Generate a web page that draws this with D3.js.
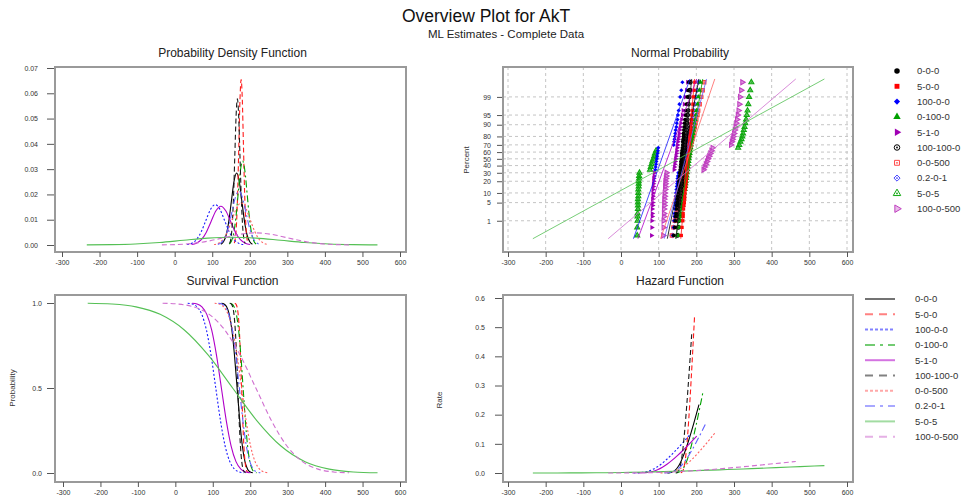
<!DOCTYPE html>
<html>
<head>
<meta charset="utf-8">
<script src="https://cdn.jsdelivr.net/npm/d3@7"></script>
<style>
  body { margin: 0; background: #fff; }
  text { font-family: "Liberation Sans", Arial, sans-serif; }
</style>
</head>
<body>
<script>
// Series (legend order)
const seriesNames = ["0-0-0", "5-0-0", "100-0-0", "0-100-0", "5-1-0", "100-100-0", "0-0-500", "0.2-0-1", "5-0-5", "100-0-500"];

// Tick labels
const xTickValues = [-300, -200, -100, 0, 100, 200, 300, 400, 500, 600];
const pdfTicks = [0, 0.01, 0.02, 0.03, 0.04, 0.05, 0.06, 0.07];
const survTicks = [0, 0.5, 1];
const hazTicks = [0, 0.1, 0.2, 0.3, 0.4, 0.5, 0.6];
const probTicks = [1, 5, 10, 20, 30, 40, 50, 60, 70, 80, 90, 95, 99];

// x positions of the sampled curve points for each series
const curveX = [
  [123, 130, 137, 144, 151, 158, 165, 172, 179, 186, 193, 200, 207],
  [158.7, 161.75, 164.8, 167.85, 170.9, 173.95, 177, 180.05, 183.1, 186.15, 189.2, 192.25, 195.3],
  [33, 45.5, 58, 70.5, 83, 95.5, 108, 120.5, 133, 145.5, 158, 170.5, 183],
  [145, 151, 157, 163, 169, 175, 181, 187, 193, 199, 205, 211, 217],
  [45, 58, 71, 84, 97, 110, 123, 136, 149, 162, 175, 188, 201],
  [146.3, 149.75, 153.2, 156.65, 160.1, 163.55, 167, 170.45, 173.9, 177.35, 180.8, 184.25, 187.7],
  [105, 117, 129, 141, 153, 165, 177, 189, 201, 213, 225, 237, 249],
  [114.9, 124.25, 133.6, 142.95, 152.3, 161.65, 171, 180.35, 189.7, 199.05, 208.4, 217.75, 227.1],
  [-234, -169.5, -105, -40.5, 24, 88.5, 153, 217.5, 282, 346.5, 411, 475.5, 540],
  [-34, 7.5, 49, 90.5, 132, 173.5, 215, 256.5, 298, 339.5, 381, 422.5, 464]
];

// density at those points
const pdfValues = [
  [0.00032, 0.00125, 0.00386, 0.00925, 0.01728, 0.02515, 0.02850, 0.02515, 0.01728, 0.00925, 0.00386, 0.00125, 0.00032],
  [0.00073, 0.00287, 0.00885, 0.02123, 0.03967, 0.05772, 0.06540, 0.05772, 0.03967, 0.02123, 0.00885, 0.00287, 0.00073],
  [0.00018, 0.00070, 0.00216, 0.00518, 0.00968, 0.01408, 0.01596, 0.01408, 0.00968, 0.00518, 0.00216, 0.00070, 0.00018],
  [0.00037, 0.00146, 0.00450, 0.01079, 0.02016, 0.02934, 0.03325, 0.02934, 0.02016, 0.01079, 0.00450, 0.00146, 0.00037],
  [0.00017, 0.00067, 0.00208, 0.00498, 0.00931, 0.01354, 0.01534, 0.01354, 0.00931, 0.00498, 0.00208, 0.00067, 0.00017],
  [0.00064, 0.00254, 0.00782, 0.01877, 0.03507, 0.05102, 0.05782, 0.05102, 0.03507, 0.01877, 0.00782, 0.00254, 0.00064],
  [0.00018, 0.00073, 0.00225, 0.00540, 0.01008, 0.01467, 0.01662, 0.01467, 0.01008, 0.00540, 0.00225, 0.00073, 0.00018],
  [0.00024, 0.00094, 0.00289, 0.00693, 0.01294, 0.01883, 0.02133, 0.01883, 0.01294, 0.00693, 0.00289, 0.00094, 0.00024],
  [0.00003, 0.00014, 0.00042, 0.00100, 0.00188, 0.00273, 0.00309, 0.00273, 0.00188, 0.00100, 0.00042, 0.00014, 0.00003],
  [0.00005, 0.00021, 0.00065, 0.00156, 0.00292, 0.00424, 0.00481, 0.00424, 0.00292, 0.00156, 0.00065, 0.00021, 0.00005]
];

// survival probability at the sampled points (same levels for every series)
const survivalLevels = [0.99865, 0.99379, 0.97725, 0.93319, 0.84134, 0.69146, 0.5, 0.30854, 0.15866, 0.06681, 0.02275, 0.00621, 0.00135];

// hazard rate at those points
const hazardValues = [
  [0.00032, 0.00126, 0.00395, 0.00991, 0.02054, 0.03637, 0.05699, 0.08151, 0.10894, 0.13848, 0.16952, 0.20154, 0.23451],
  [0.00073, 0.00289, 0.00906, 0.02275, 0.04715, 0.08347, 0.13080, 0.18706, 0.25002, 0.31782, 0.38905, 0.46255, 0.53821],
  [0.00018, 0.00071, 0.00221, 0.00555, 0.01150, 0.02037, 0.03192, 0.04564, 0.06101, 0.07755, 0.09493, 0.11286, 0.13132],
  [0.00037, 0.00147, 0.00460, 0.01157, 0.02397, 0.04243, 0.06649, 0.09509, 0.12710, 0.16156, 0.19777, 0.23513, 0.27359],
  [0.00017, 0.00068, 0.00213, 0.00534, 0.01106, 0.01958, 0.03069, 0.04389, 0.05866, 0.07456, 0.09128, 0.10852, 0.12627],
  [0.00064, 0.00256, 0.00801, 0.02011, 0.04168, 0.07379, 0.11563, 0.16537, 0.22103, 0.28097, 0.34394, 0.40893, 0.47581],
  [0.00019, 0.00074, 0.00230, 0.00578, 0.01198, 0.02122, 0.03325, 0.04755, 0.06355, 0.08078, 0.09888, 0.11757, 0.13680],
  [0.00024, 0.00094, 0.00295, 0.00742, 0.01538, 0.02723, 0.04267, 0.06102, 0.08156, 0.10367, 0.12691, 0.15089, 0.17557],
  [0.00003, 0.00014, 0.00043, 0.00108, 0.00223, 0.00395, 0.00619, 0.00885, 0.01182, 0.01503, 0.01840, 0.02187, 0.02545],
  [0.00005, 0.00021, 0.00067, 0.00167, 0.00347, 0.00613, 0.00961, 0.01375, 0.01838, 0.02336, 0.02859, 0.03400, 0.03956]
];

// Normal probability plot: plotting positions (percent) and observed values per series
const probPercents = [0.2, 0.5, 1, 1.5, 2, 3, 4, 5, 6.5, 8, 10, 12.5, 15, 17.5, 20, 23, 26, 30, 34, 38, 42,
                      46, 50, 54, 58, 62, 66, 70, 74, 77, 80, 83, 86, 88.5, 91, 93, 95, 96.5, 98, 99, 99.5, 99.8];
const probValues = [
  [140, 143, 144, 145, 146, 147, 148, 149, 150, 150, 151, 152, 153, 154, 154, 155, 156, 156, 157, 158, 159,
   159, 160, 161, 161, 162, 163, 164, 164, 165, 166, 166, 167, 168, 169, 170, 171, 172, 174, 176, 178, 180],
  [160, 162, 164, 165, 165, 166, 167, 168, 169, 169, 170, 171, 172, 172, 173, 173, 174, 175, 175, 176, 177,
   177, 178, 179, 179, 180, 181, 181, 182, 183, 183, 184, 185, 185, 186, 187, 188, 189, 191, 192, 194, 196],
  [138, 140, 141, 142, 142, 143, 144, 144, 145, 145, 146, 147, 148, 149, 149, 150, 151, 152, 91, 92, 93,
   94, 95, 96, 97, 98, 99, 140, 141, 142, 143, 144, 145, 147, 148, 150, 151, 153, 155, 157, 160, 163],
  [153, 156, 159, 160, 162, 163, 165, 166, 167, 168, 169, 171, 172, 173, 174, 175, 176, 177, 178, 179, 180,
   181, 182, 183, 184, 185, 186, 187, 188, 189, 190, 192, 193, 194, 195, 197, 199, 200, 203, 205, 208, 211],
  [81, 82, 82, 83, 83, 83, 84, 84, 84, 85, 85, 85, 86, 86, 87, 87, 88, 89, 141, 142, 143,
   144, 145, 146, 147, 148, 149, 150, 151, 152, 154, 155, 156, 158, 159, 161, 163, 165, 168, 171, 174, 177],
  [150, 152, 153, 154, 155, 156, 157, 157, 158, 159, 159, 160, 161, 161, 162, 163, 163, 164, 165, 165, 166,
   166, 167, 168, 168, 169, 170, 170, 171, 171, 172, 173, 174, 174, 175, 176, 177, 178, 179, 181, 183, 184],
  [135, 139, 143, 145, 147, 150, 152, 153, 155, 157, 159, 161, 162, 164, 165, 167, 168, 170, 172, 173, 175,
   177, 178, 180, 181, 183, 184, 186, 188, 189, 191, 192, 194, 196, 198, 200, 203, 205, 209, 213, 217, 221],
  [136, 140, 143, 145, 146, 148, 150, 151, 153, 154, 156, 157, 159, 160, 161, 162, 163, 165, 166, 167, 169,
   170, 171, 172, 173, 175, 176, 177, 179, 180, 181, 182, 184, 185, 187, 189, 191, 193, 196, 199, 202, 206],
  [43, 43, 44, 44, 44, 45, 45, 45, 45, 46, 46, 46, 47, 47, 47, 48, 48, 49, 77, 79, 81,
   83, 86, 88, 90, 93, 311, 314, 317, 320, 322, 324, 326, 328, 330, 332, 334, 336, 338, 340, 343, 346],
  [112, 113, 113, 114, 114, 114, 115, 115, 115, 116, 116, 117, 117, 118, 118, 119, 120, 121, 219, 222, 225,
   228, 231, 234, 237, 240, 243, 292, 294, 296, 298, 300, 302, 304, 306, 308, 310, 312, 314, 316, 319, 322]
];

// fitted lines on the probability plot (value at the low and high percent)
const fitPercents = [0.135, 99.865];
const fitLow = [123, 158.7, 33, 145, 45, 146.3, 105, 114.9, -234, -34];
const fitHigh = [207, 195.3, 183, 217, 201, 187.7, 249, 227.1, 540, 464];

// Styles
const lineColors = ["#000000", "#ff1a1a", "#1a1aff", "#00a000", "#b000c8", "#1a1a1a", "#ff6060", "#6060ff", "#55c055", "#d070d0"];
const pointColors = ["#000000", "#ff0000", "#0000ff", "#00a000", "#a000b4", "#000000", "#ff4848", "#4646ff", "#10a810", "#c040c0"];
const plotDashes = [null, "5,3", "2,2", "7,3,2,3", null, "5,3", "2,2", "7,3,2,3", null, "5,3"];
const legendDashes = [null, "8,6", "3,2", "10,5,3,5", null, "8,6", "3,2", "10,5,3,5", null, "8,6"];
const diamond = d3.symbolDiamond2 || d3.symbolDiamond;
const symbolTypes = [d3.symbolCircle, d3.symbolSquare, diamond, d3.symbolTriangle, d3.symbolTriangle,
                     d3.symbolCircle, d3.symbolSquare, diamond, d3.symbolTriangle, d3.symbolTriangle];

const W = 961, H = 500;
const svg = d3.select("body").append("svg")
    .attr("width", W)
    .attr("height", H);

// Titles
svg.append("text")
    .attr("x", 486).attr("y", 22)
    .attr("text-anchor", "middle")
    .attr("font-size", 17.5)
    .attr("fill", "#111")
    .text("Overview Plot for AkT");
svg.append("text")
    .attr("x", 506).attr("y", 38)
    .attr("text-anchor", "middle")
    .attr("font-size", 11.5)
    .attr("fill", "#222")
    .text("ML Estimates - Complete Data");

// Panel layout: frame box [x0,y0,x1,y1], x range, y range
const panels = {
    pdf:  { title: "Probability Density Function", box: [55, 67, 406, 252], xr: [62, 400], yr: [245, 68] },
    prob: { title: "Normal Probability", box: [503, 67, 853, 252], xr: [508, 847], yr: [252, 67] },
    surv: { title: "Survival Function", box: [55, 295, 406, 482], xr: [63, 400], yr: [473, 303] },
    haz:  { title: "Hazard Function", box: [503, 295, 853, 482], xr: [508, 847], yr: [473, 298] }
};

function drawFrame(p) {
    const [x0, y0, x1, y1] = p.box;
    svg.append("rect")
        .attr("x", x0).attr("y", y0)
        .attr("width", x1 - x0).attr("height", y1 - y0)
        .attr("fill", "none")
        .attr("stroke", "#9a9a9a")
        .attr("stroke-width", 2);
    svg.append("text")
        .attr("x", (x0 + x1) / 2 + 2).attr("y", y0 - 10)
        .attr("text-anchor", "middle")
        .attr("font-size", 12)
        .attr("fill", "#222")
        .text(p.title);
}

function styleAxis(g) {
    g.select(".domain").remove();
    g.selectAll("line").attr("stroke", "#555");
    g.selectAll("text").attr("font-size", 7).attr("fill", "#333")
        .style("font-family", '"Liberation Sans", Arial, sans-serif');
}

function drawXAxis(p, x) {
    svg.append("g")
        .attr("transform", `translate(0,${p.box[3]})`)
        .call(d3.axisBottom(x).tickValues(xTickValues).tickFormat(d => String(d)).tickSize(5).tickPadding(3))
        .call(styleAxis);
}

function yLabel(text, x, y) {
    svg.append("text")
        .attr("transform", `translate(${x},${y}) rotate(-90)`)
        .attr("text-anchor", "middle")
        .attr("font-size", 8)
        .attr("fill", "#333")
        .text(text);
}

// ---------- PDF ----------
const pP = panels.pdf;
const xPdf = d3.scaleLinear().domain([-300, 600]).range(pP.xr);
const yPdf = d3.scaleLinear().domain([0, 0.07]).range(pP.yr);
drawFrame(pP);
drawXAxis(pP, xPdf);
svg.append("g")
    .attr("transform", `translate(${pP.box[0] - 1},0)`)
    .call(d3.axisLeft(yPdf).tickValues(pdfTicks).tickFormat(d3.format(".2f")).tickSize(7).tickPadding(9))
    .call(styleAxis);

function drawCurves(x, y, valuesFor) {
    const line = d3.line()
        .x(d => x(d[0]))
        .y(d => y(d[1]))
        .curve(d3.curveMonotoneX);
    seriesNames.forEach((name, i) => {
        svg.append("path")
            .datum(d3.zip(curveX[i], valuesFor(i)))
            .attr("d", line)
            .attr("fill", "none")
            .attr("stroke", lineColors[i])
            .attr("stroke-width", 1.1)
            .attr("stroke-dasharray", plotDashes[i]);
    });
}
drawCurves(xPdf, yPdf, i => pdfValues[i]);

// ---------- Survival ----------
const pS = panels.surv;
const xSurv = d3.scaleLinear().domain([-300, 600]).range(pS.xr);
const ySurv = d3.scaleLinear().domain([0, 1]).range(pS.yr);
drawFrame(pS);
drawXAxis(pS, xSurv);
svg.append("g")
    .attr("transform", `translate(${pS.box[0] - 1},0)`)
    .call(d3.axisLeft(ySurv).tickValues(survTicks).tickFormat(d3.format(".1f")).tickSize(7).tickPadding(5))
    .call(styleAxis);
yLabel("Probability", 15, 388);
drawCurves(xSurv, ySurv, i => survivalLevels);

// ---------- Hazard ----------
const pH = panels.haz;
const xHaz = d3.scaleLinear().domain([-300, 600]).range(pH.xr);
const yHaz = d3.scaleLinear().domain([0, 0.6]).range(pH.yr);
drawFrame(pH);
drawXAxis(pH, xHaz);
svg.append("g")
    .attr("transform", `translate(${pH.box[0] - 1},0)`)
    .call(d3.axisLeft(yHaz).tickValues(hazTicks).tickFormat(d3.format(".1f")).tickSize(7).tickPadding(10))
    .call(styleAxis);
yLabel("Rate", 442, 400);
drawCurves(xHaz, yHaz, i => hazardValues[i]);

// ---------- Normal probability ----------
// inverse standard normal CDF (probability axis transform)
function probit(p) {
    const a = [-3.969683028665376e+01, 2.209460984245205e+02, -2.759285104469687e+02, 1.383577518672690e+02, -3.066479806614716e+01, 2.506628277459239e+00];
    const b = [-5.447609879822406e+01, 1.615858368580409e+02, -1.556989798598866e+02, 6.680131188771972e+01, -1.328068155288572e+01];
    const c = [-7.784894002430293e-03, -3.223964580411365e-01, -2.400758277161838e+00, -2.549732539343734e+00, 4.374664141464968e+00, 2.938163982698783e+00];
    const d = [7.784695709041462e-03, 3.224671290700398e-01, 2.445134137142996e+00, 3.754408661907416e+00];
    const plow = 0.02425;
    let q, r;
    if (p < plow) {
        q = Math.sqrt(-2 * Math.log(p));
        return (((((c[0] * q + c[1]) * q + c[2]) * q + c[3]) * q + c[4]) * q + c[5]) / ((((d[0] * q + d[1]) * q + d[2]) * q + d[3]) * q + 1);
    }
    if (p > 1 - plow) {
        q = Math.sqrt(-2 * Math.log(1 - p));
        return -(((((c[0] * q + c[1]) * q + c[2]) * q + c[3]) * q + c[4]) * q + c[5]) / ((((d[0] * q + d[1]) * q + d[2]) * q + d[3]) * q + 1);
    }
    q = p - 0.5; r = q * q;
    return (((((a[0] * r + a[1]) * r + a[2]) * r + a[3]) * r + a[4]) * r + a[5]) * q / (((((b[0] * r + b[1]) * r + b[2]) * r + b[3]) * r + b[4]) * r + 1);
}

const pN = panels.prob;
const xProb = d3.scaleLinear().domain([-300, 600]).range(pN.xr);
const zScale = d3.scaleLinear().domain([-3.5, 3.45]).range(pN.yr);
const yProb = pct => zScale(probit(pct / 100));

// grid
const grid = svg.append("g")
    .attr("stroke", "#c4c4c4")
    .attr("stroke-dasharray", "3,3")
    .attr("stroke-width", 1);
grid.selectAll(".vg").data(xTickValues).join("line")
    .attr("x1", d => xProb(d)).attr("x2", d => xProb(d))
    .attr("y1", pN.box[1]).attr("y2", pN.box[3]);
grid.selectAll(".hg").data(probTicks).join("line")
    .attr("x1", pN.box[0]).attr("x2", pN.box[2])
    .attr("y1", d => yProb(d)).attr("y2", d => yProb(d));

drawFrame(pN);
drawXAxis(pN, xProb);
svg.append("g")
    .attr("transform", `translate(${pN.box[0] - 1},0)`)
    .call(d3.axisLeft(zScale)
        .tickValues(probTicks.map(p => probit(p / 100)))
        .tickFormat((d, i) => String(probTicks[i]))
        .tickSize(5).tickPadding(6))
    .call(styleAxis);
yLabel("Percent", 469, 160);

function markerPath(i, size) {
    return d3.symbol().type(symbolTypes[i]).size(size)();
}
const rotations = [0, 0, 0, 0, 90, 0, 0, 0, 0, 90];
const filled = i => i < 5;

// openFill: fill opacity used for the open (hollow) marker styles
function drawMarker(g, i, size, dotR, sw, openFill) {
    g.append("path")
        .attr("d", markerPath(i, size))
        .attr("transform", rotations[i] ? `rotate(${rotations[i]})` : null)
        .attr("fill", pointColors[i])
        .attr("fill-opacity", filled(i) ? 1 : openFill)
        .attr("stroke", pointColors[i])
        .attr("stroke-width", filled(i) ? 0 : sw);
    if (i >= 5 && i <= 8) {
        g.append("circle").attr("r", dotR).attr("fill", pointColors[i]);
    }
}

// points (drawn last series first so the first series sits on top)
const order = d3.range(seriesNames.length).reverse();
order.forEach(i => {
    const pts = d3.zip(probValues[i], probPercents);
    const g = svg.append("g").attr("class", "pts-" + i);
    g.selectAll("g").data(pts).join("g")
        .attr("transform", d => `translate(${xProb(d[0])},${yProb(d[1])})`)
        .each(function () { drawMarker(d3.select(this), i, 11, 0.6, 1.1, 0.55); });
});

// fit lines
seriesNames.forEach((name, i) => {
    svg.append("line")
        .attr("x1", xProb(fitLow[i])).attr("y1", yProb(fitPercents[0]))
        .attr("x2", xProb(fitHigh[i])).attr("y2", yProb(fitPercents[1]))
        .attr("stroke", lineColors[i])
        .attr("stroke-opacity", 0.8)
        .attr("stroke-width", 1);
});

// ---------- Legends ----------
const legPts = svg.append("g").attr("transform", "translate(897,71)");
seriesNames.forEach((name, i) => {
    const row = legPts.append("g").attr("transform", `translate(0,${i * 15.3})`);
    drawMarker(row, i, 24, 0.9, 1, i === 9 ? 0.35 : 0);
    row.append("text")
        .attr("x", 20).attr("dy", "0.35em")
        .attr("font-size", 9.5)
        .attr("fill", "#333")
        .text(name);
});

const legLines = svg.append("g").attr("transform", "translate(865,299)");
seriesNames.forEach((name, i) => {
    const row = legLines.append("g").attr("transform", `translate(0,${i * 15.3})`);
    row.append("line")
        .attr("x1", 0).attr("x2", 30)
        .attr("stroke", lineColors[i])
        .attr("stroke-opacity", 0.55)
        .attr("stroke-width", 2)
        .attr("stroke-dasharray", legendDashes[i]);
    row.append("text")
        .attr("x", 50).attr("dy", "0.35em")
        .attr("font-size", 9.5)
        .attr("fill", "#333")
        .text(name);
});
</script>
</body>
</html>
